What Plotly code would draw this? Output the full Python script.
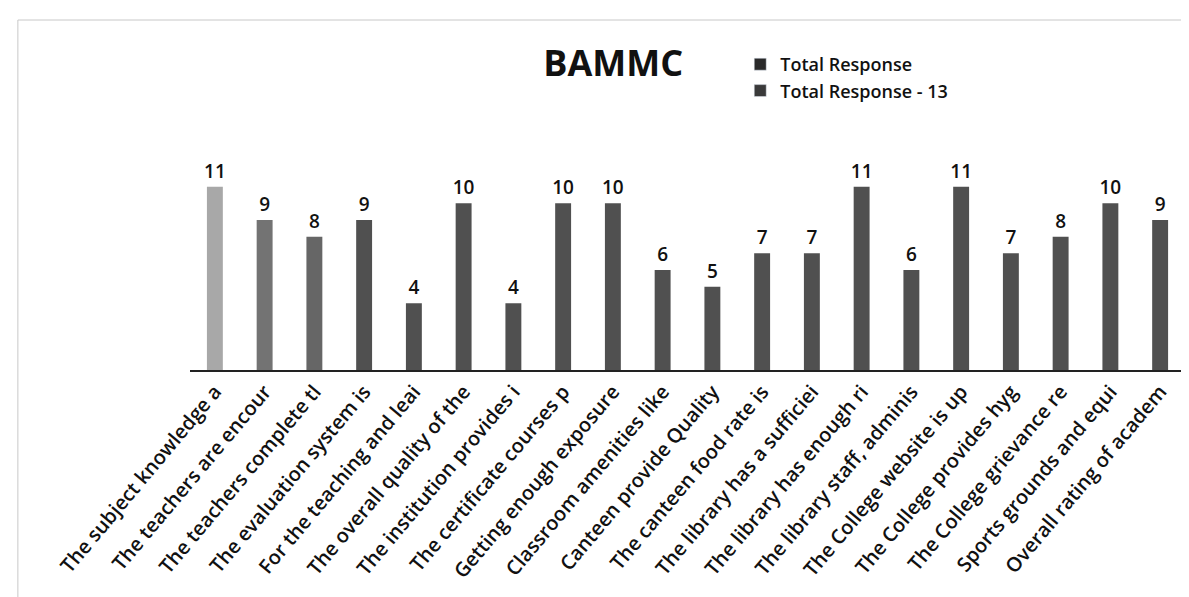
import plotly.graph_objects as go

categories = [
    "The subject knowledge a", "The teachers are encour", "The teachers complete tl",
    "The evaluation system is", "For the teaching and leai", "The overall quality of the",
    "The institution provides i", "The certificate courses p", "Getting enough exposure",
    "Classroom amenities like", "Canteen provide Quality", "The canteen food rate is",
    "The library has a sufficiei", "The library has enough ri", "The library staff, adminis",
    "The College website is up", "The College provides hyg", "The College grievance re",
    "Sports grounds and equi", "Overall rating of academ",
]
values = [11, 9, 8, 9, 4, 10, 4, 10, 10, 6, 5, 7, 7, 11, 6, 11, 7, 8, 10, 9]
series_names = ["Total Response", "Total Response - 13"]

bar_colors = ["#a8a8a8", "#737373", "#666666"] + ["#505050"] * (len(values) - 3)

FONT = "Open Sans"

fig = go.Figure()
fig.add_trace(go.Bar(
    x=categories, y=values, name=series_names[0],
    marker=dict(color=bar_colors, line=dict(width=0)),
    text=values, textposition="outside", cliponaxis=False, constraintext="none",
    textfont=dict(family=FONT, size=19, color="#111111", weight=600),
    showlegend=False,
))
# legend entries (as in the reference: both shown as dark squares)
fig.add_trace(go.Bar(x=[None], y=[None], name=series_names[0], marker=dict(color="#2a2a2a")))
fig.add_trace(go.Bar(x=[None], y=[None], name=series_names[1], marker=dict(color="#3a3a3a")))

fig.update_layout(
    width=1189, height=597,
    margin=dict(l=182, r=12, t=162, b=235),
    paper_bgcolor="white", plot_bgcolor="white",
    bargap=0.68,
    barmode="overlay",
    title=dict(text="<b>BAMMC</b>", x=0.509, xanchor="center", y=0.908, yanchor="middle",
               font=dict(family=FONT, size=36, color="#111111")),
    legend=dict(x=0.553, xanchor="left", y=1.62, yanchor="top",
                font=dict(family=FONT, size=18, color="#111111", weight=600),
                bgcolor="rgba(0,0,0,0)", itemwidth=30, tracegroupgap=2),
    xaxis=dict(showline=True, linecolor="#222222", linewidth=2, ticks="",
               tickangle=-50, tickfont=dict(family=FONT, size=20, color="#111111", weight=600),
               showgrid=False),
    yaxis=dict(range=[0, 12], visible=False, showgrid=False),
    shapes=[dict(type="rect", xref="paper", yref="paper",
                 x0=-0.173, x1=1.03, y0=-1.14, y1=1.75,
                 line=dict(color="#c8c8c8", width=1))],
)

fig.write_html("out.html")
